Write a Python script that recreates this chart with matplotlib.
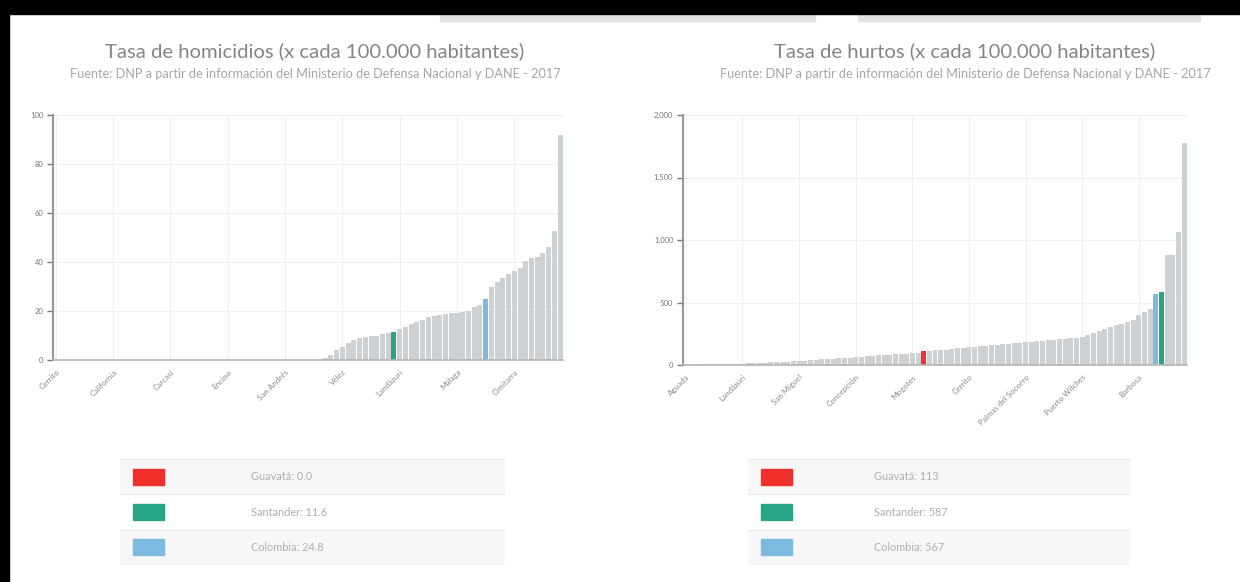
import matplotlib.pyplot as plt
from matplotlib.patches import Rectangle

# =========================
# DATA
# =========================

ref_names = ["Guavatá", "Santander", "Colombia"]

# homicidios: municipios (sin Guavatá), ordenados
hom_munis = [0.0] * 46 + [
    1.0, 2.0, 4.0, 5.5, 7.0, 8.0, 9.0, 9.5, 9.7, 10.0, 10.5, 11.0,
    12.5, 13.5, 14.5, 15.5, 16.5, 17.5, 18.0, 18.3, 18.7, 19.0, 19.3, 19.6,
    20.0, 21.5, 22.5,
    30.0, 32.0, 33.5, 35.0, 36.5, 37.5, 40.5, 41.5, 42.0, 43.5, 46.0, 52.5, 92.0,
]
hom_refs = [0.0, 11.6, 24.8]
hom_ticklabels = ["Cerrito", "California", "Carcasí", "Encino", "San Andrés",
                  "Vélez", "Landázuri", "Málaga", "Cimitarra"]

# hurtos: municipios (sin Guavatá), ordenados
hurt_munis = [
    2, 3, 4, 5, 6, 7, 8, 9, 10, 11, 12, 14, 16, 18, 20, 22, 24, 26, 28, 30,
    33, 36, 39, 42, 45, 48, 51, 54, 57, 60, 64, 68, 72, 75, 78, 81, 84, 87, 90, 92,
    95, 100, 115, 117, 120, 124, 128, 133, 138, 142, 146, 150, 154, 158, 162, 166,
    170, 174, 178, 182, 186, 190, 194, 198, 202, 206, 210, 214, 218, 222, 240, 260,
    275, 290, 305, 318, 330, 345, 360, 400, 427, 450, 880, 880, 1065, 1780,
]
hurt_refs = [113, 587, 567]
hurt_ticklabels = ["Aguada", "Landázuri", "San Miguel", "Concepción", "Mogotes",
                   "Cerrito", "Palmas del Socorro", "Puerto Wilches", "Barbosa"]

# =========================
# STYLE
# =========================

FONT = "Lato"
TXT = "#858585"
GRAY_BAR = "#cdd1d4"
REF_COLORS = ["#f0302a", "#27a585", "#7cbadf"]

plt.rcParams["font.family"] = [FONT, "DejaVu Sans"]

fig = plt.figure(figsize=(12.4, 5.82), dpi=100)

# page frame and top tabs
fig.patches.append(Rectangle((0, 1 - 14 / 582), 1, 14 / 582, transform=fig.transFigure,
                             color="black", zorder=5))
fig.patches.append(Rectangle((0, 0), 9 / 1240, 1, transform=fig.transFigure,
                             color="black", zorder=5))
for x0, x1 in [(440, 815), (858, 1200)]:
    fig.patches.append(Rectangle((x0 / 1240, 1 - 21 / 582), (x1 - x0) / 1240, 7 / 582,
                                 transform=fig.transFigure, color="#e2e2e2", zorder=4))


def build(munis, refs):
    items = [(v, GRAY_BAR) for v in munis]
    items += [(v, c) for v, c in zip(refs, REF_COLORS)]
    items.sort(key=lambda t: t[0])
    return [t[0] for t in items], [t[1] for t in items]


def draw_chart(rect, munis, refs, ticklabels, ymax, yticks, yticklabels, title, cx):
    ax = fig.add_axes(rect)
    vals, cols = build(munis, refs)
    xs = list(range(len(vals)))
    ax.bar(xs, vals, width=0.88, color=cols, zorder=2)
    ax.set_xlim(-0.5, len(vals) - 0.5)
    ax.set_ylim(0, ymax)
    ax.set_yticks(yticks)
    ax.set_yticklabels(yticklabels)
    ax.set_xticks(xs[::10])
    ax.set_xticklabels(ticklabels, rotation=45, ha="right", rotation_mode="anchor")
    ax.tick_params(axis="y", labelsize=5.5, colors="#777777", length=4, width=1, pad=3)
    ax.tick_params(axis="x", labelsize=5.8, colors="#888888", length=0, pad=6)
    ax.grid(True, color="#efefef", linewidth=0.8, zorder=0)
    for s in ["top", "right"]:
        ax.spines[s].set_visible(False)
    ax.spines["left"].set_color("#9a9a9a")
    ax.spines["left"].set_linewidth(1.6)
    ax.spines["bottom"].set_color("#b5b5b5")
    ax.spines["bottom"].set_linewidth(1.2)
    fig.text(cx, 1 - 51 / 582, title, ha="center", va="center", fontsize=14.6,
             color=TXT)
    fig.text(cx, 1 - 74 / 582,
             "Fuente: DNP a partir de información del Ministerio de Defensa Nacional y DANE - 2017",
             ha="center", va="center", fontsize=9.2, color="#a6a6a6")
    return ax


def draw_legend(rect, refs, fmt, text_x):
    lg = fig.add_axes(rect)
    lg.set_xlim(0, 1)
    lg.set_ylim(0, 3)
    lg.axis("off")
    for i, (name, v, c) in enumerate(zip(ref_names, refs, REF_COLORS)):
        y0 = 2 - i
        bg = "#f7f7f7" if i != 1 else "white"
        lg.add_patch(Rectangle((0, y0), 1, 1, color=bg, zorder=0))
        lg.plot([0, 1], [y0, y0], color="#e6e6e6", linewidth=0.8)
        lg.add_patch(Rectangle((0.035, y0 + 0.27), 0.08, 0.46, color=c, zorder=2))
        lg.text(text_x, y0 + 0.5, name + ": " + fmt.format(v), va="center",
                fontsize=7.8, color="#adadad")
    lg.plot([0, 1], [3, 3], color="#e6e6e6", linewidth=0.8)


# =========================
# CHART 1 - HOMICIDIOS
# =========================

draw_chart([53 / 1240, 1 - 360 / 582, 510 / 1240, 245 / 582],
           hom_munis, hom_refs, hom_ticklabels, 100,
           [0, 20, 40, 60, 80, 100], ["0", "20", "40", "60", "80", "100"],
           "Tasa de homicidios (x cada 100.000 habitantes)", 315 / 1240)
draw_legend([120 / 1240, 1 - 565 / 582, 385 / 1240, 106 / 582], hom_refs, "{:.1f}", 0.34)

# =========================
# CHART 2 - HURTOS
# =========================

draw_chart([683 / 1240, 1 - 365 / 582, 504 / 1240, 250 / 582],
           hurt_munis, hurt_refs, hurt_ticklabels, 2000,
           [0, 500, 1000, 1500, 2000], ["0", "500", "1.000", "1.500", "2.000"],
           "Tasa de hurtos (x cada 100.000 habitantes)", 965 / 1240)
draw_legend([748 / 1240, 1 - 565 / 582, 382 / 1240, 106 / 582], hurt_refs, "{:.0f}", 0.33)

plt.savefig("out.png", dpi=100)
